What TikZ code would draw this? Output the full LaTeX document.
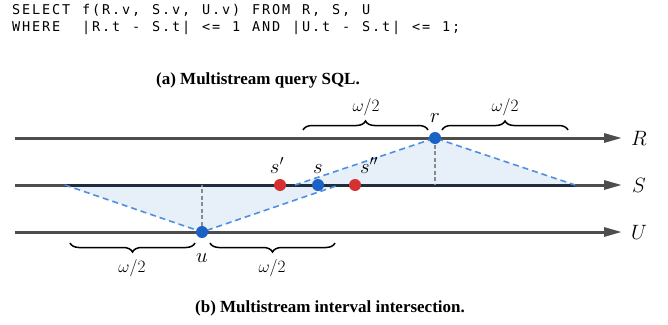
\documentclass[tikz,border=0pt]{standalone}
\usepackage{fontspec}
\setmainfont{Liberation Serif}
\newfontfamily\sqlfont{DejaVu Sans Mono}
\usetikzlibrary{arrows.meta,decorations.pathreplacing}
\newcommand\sqlcell[1]{\makebox[10pt][c]{#1}}
\def\sqlrun#1{\ifx#1\relax\else\sqlcell{#1}\expandafter\sqlrun\fi}
\definecolor{axisgray}{HTML}{4D4D4D}
\definecolor{sdark}{HTML}{1F2D3D}
\definecolor{dotblue}{HTML}{1A62C6}
\definecolor{dotred}{HTML}{D63031}
\definecolor{dashblue}{HTML}{4F8FDD}
\definecolor{fillblue}{HTML}{E7EFF9}
\definecolor{vgray}{HTML}{8A8A8A}
\tikzset{
  axisline/.style={draw=axisgray, line width=3pt, -{Triangle[length=18pt,width=9pt]}},
  sseg/.style={draw=sdark, line width=3pt},
  edge/.style={draw=dashblue, line width=1.6pt, dash pattern=on 6pt off 4pt},
  vdash/.style={draw=vgray, line width=1.6pt, dash pattern=on 4pt off 2.5pt},
  tri/.style={fill=fillblue},
  bdot/.style={circle, fill=dotblue, inner sep=0pt, minimum size=12pt},
  rdot/.style={circle, fill=dotred, inner sep=0pt, minimum size=12pt},
  mlabel/.style={font=\fontsize{21}{24}\selectfont, inner sep=0pt},
  wlabel/.style={font=\fontsize{17}{20}\selectfont, inner sep=0pt},
  bracestyle/.style={draw=black, line width=1.5pt, decorate, decoration={brace, amplitude=9pt}},
  sqltext/.style={font=\sqlfont\fontsize{13.5}{16}\selectfont, inner sep=0pt, anchor=west},
  captext/.style={font=\bfseries\fontsize{17}{20}\selectfont, inner sep=0pt}
}
\begin{document}
\begin{tikzpicture}[x=1pt, y=-1pt]
\useasboundingbox (0,0) rectangle (668,324);
% SQL
\node[sqltext] (sql1) at (11,10) {\sqlrun SELECT~f(R.v,~S.v,~U.v)~FROM~R,~S,~U\relax};
\node[sqltext] (sql2) at (11,28) {\sqlrun WHERE~~|R.t~-~S.t|~<=~1~AND~|U.t~-~S.t|~<=~1;\relax};
\node[captext] (capa) at (258,80) {(a) Multistream query SQL.};
% coordinates
\coordinate (R0) at (15,138); \coordinate (R1) at (622,138);
\coordinate (S0) at (15,185); \coordinate (S1) at (622,185);
\coordinate (U0) at (15,232); \coordinate (U1) at (622,232);
\coordinate (ra) at (295,185); \coordinate (rb) at (575,185); \coordinate (rs) at (435,185);
\coordinate (ua) at (65,185); \coordinate (ub) at (339,185); \coordinate (us) at (202,185);
\coordinate (rc) at (435,138); \coordinate (uc) at (202,232);
% fills
\fill[tri] (ra) -- (rc) -- (rb) -- cycle;
\fill[tri] (ua) -- (uc) -- (ub) -- cycle;
% axes
\draw[axisline] (R0) -- (R1);
\draw[axisline] (S0) -- (S1);
\draw[axisline] (U0) -- (U1);
\draw[sseg] (ua) -- (rb);
% dashed edges
\draw[edge] (ra) -- (rc) -- (rb);
\draw[edge] (ua) -- (uc) -- (ub);
\draw[vdash] (rc) -- (rs);
\draw[vdash] (uc) -- (us);
% dots
\node[bdot] (r) at (rc) {};
\node[bdot] (u) at (uc) {};
\node[bdot] (s) at (318,185) {};
\node[rdot] (s1) at (280,185) {};
\node[rdot] (s2) at (355,185) {};
% labels
\node[mlabel] (Rl) at (639,138) {$R$};
\node[mlabel] (Sl) at (639,185) {$S$};
\node[mlabel] (Ul) at (639,232) {$U$};
\node[mlabel, anchor=base] (rl) at (435,122) {$r$};
\node[mlabel, anchor=base] (ul) at (202,262) {$u$};
\node[mlabel, anchor=base] (sl) at (318,173) {$s$};
\node[mlabel, anchor=base] (s1l) at (277,173) {$s'$};
\node[mlabel, anchor=base] (s2l) at (369,173) {$s''$};
% braces
\coordinate (b1a) at (303,130); \coordinate (b1b) at (428,130);
\coordinate (b2a) at (442,130); \coordinate (b2b) at (568,130);
\coordinate (b3a) at (70,243); \coordinate (b3b) at (195,243);
\coordinate (b4a) at (210,243); \coordinate (b4b) at (335,243);
\draw[bracestyle] (b1a) -- (b1b);
\draw[bracestyle] (b2a) -- (b2b);
\draw[bracestyle] (b3b) -- (b3a);
\draw[bracestyle] (b4b) -- (b4a);
\node[wlabel] (w1) at (366,107) {$\omega/2$};
\node[wlabel] (w2) at (505,107) {$\omega/2$};
\node[wlabel] (w3) at (132,268) {$\omega/2$};
\node[wlabel] (w4) at (272,268) {$\omega/2$};
\node[captext] (capb) at (330,308) {(b) Multistream interval intersection.};
\end{tikzpicture}
\end{document}
